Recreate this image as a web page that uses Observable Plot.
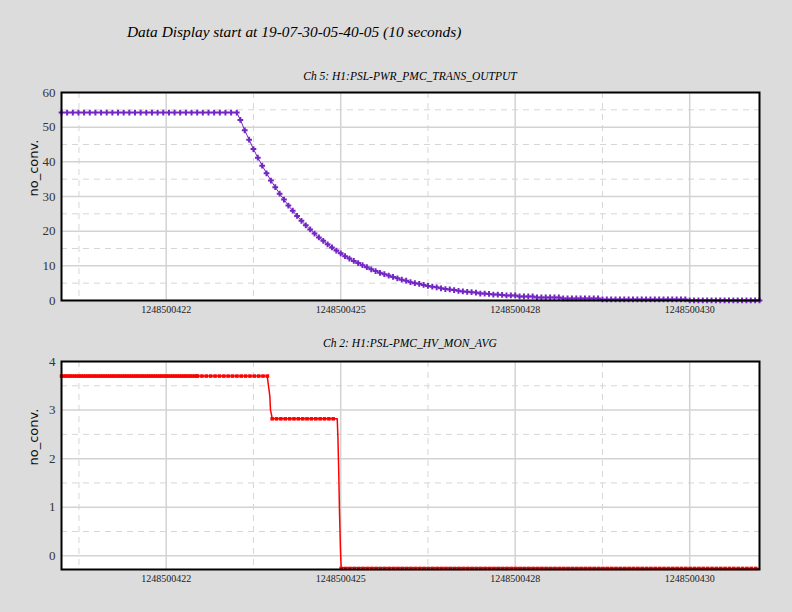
<!DOCTYPE html>
<html>
<head>
<meta charset="utf-8">
<script src="https://cdn.jsdelivr.net/npm/d3@7"></script>
<script src="https://cdn.jsdelivr.net/npm/@observablehq/plot@0.6"></script>
<style>
  body { margin: 0; background: #dcdcdc; }
  #page { position: relative; width: 792px; height: 612px; background: #dcdcdc; overflow: hidden; }
  .title { position: absolute; left: 127px; top: 23px; font: italic 15.4px "Liberation Serif", serif; white-space: nowrap; }
  .sub { position: absolute; left: 61px; width: 698px; text-align: center; font: italic 11.5px "Liberation Serif", serif; white-space: nowrap; }
  .chart { position: absolute; left: 0; }
</style>
</head>
<body>
<div id="page">
  <div class="title">Data Display start at 19-07-30-05-40-05 (10 seconds)</div>
  <div class="sub" style="top:70px">Ch 5: H1:PSL-PWR_PMC_TRANS_OUTPUT</div>
  <div class="sub" style="top:337px">Ch 2: H1:PSL-PMC_HV_MON_AVG</div>
  <div class="chart" id="chart_top" style="top:62px"></div>
  <div class="chart" id="chart_bot" style="top:331px"></div>
</div>
<script>
// tiempo en segundos desde 1248500421
const xMajor = [1.5, 4, 6.5, 9]
const xMinor = [0.25, 2.75, 5.25, 7.75]
const xLabels = ["1248500422", "1248500425", "1248500428", "1248500430"]

// Ch 5: tramo plano (muestras cada 0.081 s) y caida (16 Hz desde 2.5625 s)
const topFlat = [54.2, 54.2, 54.2, 54.2, 54.2, 54.2, 54.2, 54.2, 54.2, 54.2, 54.2, 54.2, 54.2, 54.2, 54.2, 54.2,
  54.2, 54.2, 54.2, 54.2, 54.2, 54.2, 54.2, 54.2, 54.2, 54.2, 54.2, 54.2, 54.2, 54.2, 54.2, 54.2]
const topFlatStep = 0.081
const topDecay = [52.1, 49.1, 46.4, 43.7, 41.2, 38.9, 36.7, 34.6, 32.7, 30.8, 29.1, 27.4, 25.9, 24.4, 23.0, 21.7,
  20.5, 19.3, 18.2, 17.2, 16.2, 15.3, 14.4, 13.6, 12.8, 12.1, 11.4, 10.8, 10.2, 9.6, 9.0, 8.5,
  8.0, 7.6, 7.2, 6.8, 6.4, 6.0, 5.7, 5.3, 5.0, 4.8, 4.5, 4.2, 4.0, 3.8, 3.5, 3.3,
  3.2, 3.0, 2.8, 2.6, 2.5, 2.4, 2.3, 2.0, 2.0, 1.9, 1.7, 1.7, 1.6, 1.45, 1.45, 1.45,
  1.16, 1.16, 1.16, 1.16, 0.87, 0.87, 0.87, 0.87, 0.87, 0.87, 0.58, 0.58, 0.58, 0.58, 0.58, 0.58,
  0.58, 0.58, 0.58, 0.29, 0.29, 0.29, 0.29, 0.29, 0.29, 0.29, 0.29, 0.29, 0.29, 0.29, 0.29, 0.29,
  0.29, 0.29, 0.29, 0.29, 0.29, 0.29, 0.29, 0.02, 0.02, 0.02, 0.02, 0.02, 0.02, 0.02, 0.02, 0.02,
  0.02, 0.02, 0.02, 0.02, 0.02, 0.02, 0.02, 0.02]
const topDecayStart = 2.5625
const topDecayStep = 0.0625

// Ch 2: tres niveles y los dos saltos
const botLevels = [3.70, 2.82, -0.26]
const botPlateaus = [[0, 2.947], [3.018, 3.95], [4.007, 10]]
const botStep1T = [2.947, 2.970, 2.985, 2.994, 3.009, 3.018]
const botStep1V = [3.70, 3.45, 3.28, 3.00, 2.90, 2.82]
const botStep2T = [3.950, 3.960, 3.973, 3.983, 3.997, 4.007]
const botStep2V = [2.82, 2.45, 1.66, 0.90, 0.11, -0.24]

const topData = [
  ...topFlat.map((v, i) => ({t: i * topFlatStep, v})),
  ...topDecay.map((v, i) => ({t: topDecayStart + i * topDecayStep, v}))
]

const botLine = [
  {t: 0, v: botLevels[0]},
  ...botStep1T.map((t, i) => ({t, v: botStep1V[i]})),
  ...botStep2T.map((t, i) => ({t, v: botStep2V[i]})),
  {t: 10, v: botLevels[2]}
]
// marcadores: mas densos al principio
const botDots = [
  ...d3.range(0, 1.95, 1 / 32).map(t => ({t, v: botLevels[0]})),
  ...d3.range(1.95, 2.95, 1 / 16).map(t => ({t, v: botLevels[0]})),
  ...d3.range(botPlateaus[1][0], botPlateaus[1][1] + 0.001, 1 / 16).map(t => ({t, v: botLevels[1]})),
  ...d3.range(botPlateaus[2][0], 10, 1 / 16).map(t => ({t, v: botLevels[2]}))
]

const serif = "Liberation Serif"

function panel(yDomain, yMajor, yMinor, marks) {
  return Plot.plot({
    width: 792,
    height: 268,
    marginLeft: 61,
    marginRight: 33,
    marginTop: 30,
    marginBottom: 30,
    style: {background: "transparent", overflow: "visible"},
    x: {domain: [0, 10], axis: null},
    y: {domain: yDomain, axis: null},
    marks: [
      Plot.frame({fill: "white"}),
      Plot.ruleX(xMinor, {x: d => d, stroke: "#d6d6d6", strokeDasharray: "6,5"}),
      Plot.ruleY(yMinor, {y: d => d, stroke: "#d6d6d6", strokeDasharray: "6,5"}),
      Plot.ruleX(xMajor, {x: d => d, stroke: "#d3d3d3", strokeWidth: 1.5}),
      Plot.ruleY(yMajor, {y: d => d, stroke: "#d3d3d3", strokeWidth: 1.5}),
      ...marks,
      Plot.frame({stroke: "black", strokeWidth: 2}),
      Plot.text(xMajor, {x: d => d, text: (d, i) => xLabels[i], frameAnchor: "bottom", lineAnchor: "top",
        dy: 5, fontSize: 10, fontFamily: serif, fill: "#222"}),
      Plot.text(yMajor, {y: d => d, text: d => String(d), frameAnchor: "left", textAnchor: "end",
        dx: -6, fontSize: 13, fontFamily: serif, fill: "#333"}),
      Plot.text(["no_conv."], {frameAnchor: "left", dx: -28, rotate: -90, fontSize: 13,
        fontFamily: "DejaVu Sans", fill: "#111"})
    ]
  })
}

const purple = "#7326c4"
let chartTop = panel([0, 60], [0, 10, 20, 30, 40, 50, 60], [5, 15, 25, 35, 45, 55], [
  Plot.line(topData, {x: "t", y: "v", stroke: purple, strokeWidth: 1}),
  Plot.dot(topData, {x: "t", y: "v", symbol: "plus", r: 2, stroke: purple, strokeWidth: 2})
])
d3.select('#chart_top').append(() => chartTop)

let chartBot = panel([-0.282, 4], [0, 1, 2, 3, 4], [0.5, 1.5, 2.5, 3.5], [
  Plot.line(botLine, {x: "t", y: "v", stroke: "red", strokeWidth: 1.5}),
  Plot.dot(botDots, {x: "t", y: "v", symbol: "square", r: 2, fill: "red", stroke: "none"})
])
d3.select('#chart_bot').append(() => chartBot)
</script>
</body>
</html>
